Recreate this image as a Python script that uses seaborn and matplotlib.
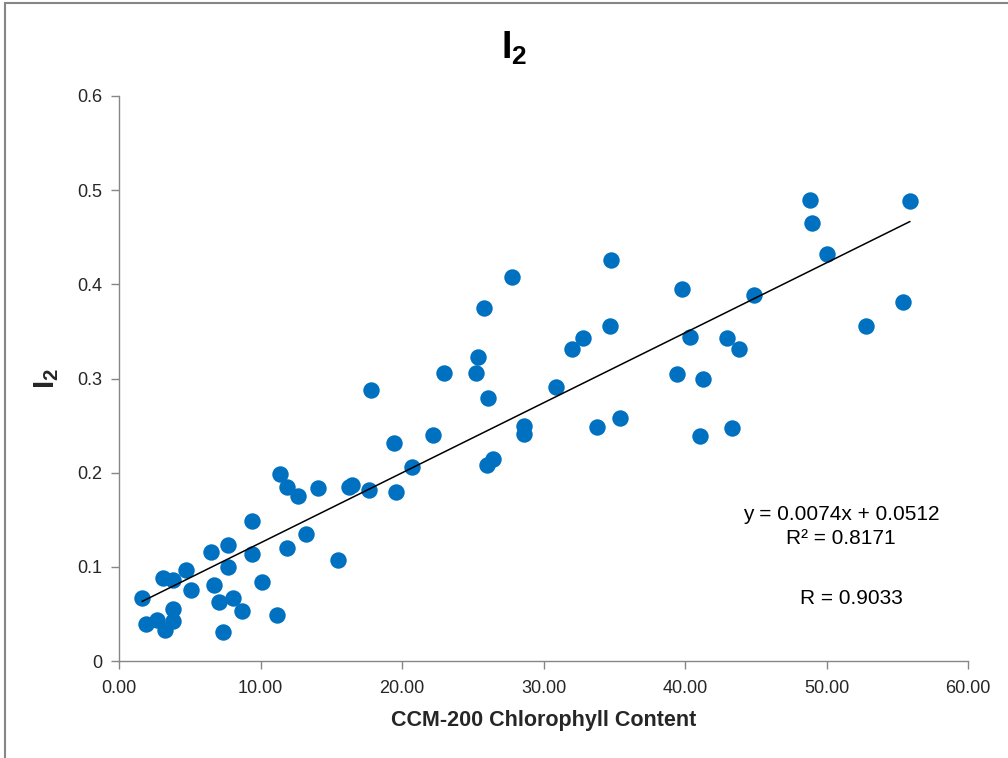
import numpy as np
import pandas as pd
import matplotlib
matplotlib.use("Agg")
import matplotlib.pyplot as plt
import seaborn as sns
from matplotlib.patches import Rectangle
from matplotlib.ticker import FormatStrFormatter, FuncFormatter

chlorophyll = [1.63, 1.91, 2.69, 3.11, 3.25, 3.82, 3.82, 3.82, 4.73, 5.09,
               6.50, 6.70, 7.07, 7.35, 7.70, 7.70, 8.06, 8.70, 9.40, 9.40,
               10.10, 11.20, 11.40, 11.90, 11.90, 12.65, 13.20, 14.06, 15.50, 16.25,
               16.50, 17.70, 17.80, 19.40, 19.60, 20.70, 22.20, 23.00, 25.20, 25.40,
               25.80, 26.10, 26.00, 26.40, 27.80, 28.60, 28.60, 30.90, 32.00, 32.80,
               33.80, 34.70, 34.80, 35.40, 39.40, 39.80, 40.35, 41.06, 41.30, 43.00,
               43.30, 43.80, 44.90, 48.80, 49.00, 50.00, 52.80, 55.40, 55.90]
i2 = [0.067, 0.039, 0.044, 0.088, 0.033, 0.086, 0.055, 0.042, 0.097, 0.075,
      0.116, 0.081, 0.063, 0.031, 0.123, 0.100, 0.067, 0.053, 0.149, 0.114,
      0.084, 0.049, 0.199, 0.185, 0.120, 0.175, 0.135, 0.184, 0.107, 0.185,
      0.187, 0.182, 0.288, 0.232, 0.179, 0.206, 0.240, 0.306, 0.306, 0.323,
      0.375, 0.279, 0.208, 0.215, 0.408, 0.250, 0.241, 0.291, 0.331, 0.343,
      0.248, 0.356, 0.426, 0.258, 0.305, 0.395, 0.344, 0.239, 0.299, 0.343,
      0.247, 0.331, 0.389, 0.490, 0.465, 0.432, 0.356, 0.381, 0.489]

x_ticks = [0, 10, 20, 30, 40, 50, 60]
y_ticks = [0, 0.1, 0.2, 0.3, 0.4, 0.5, 0.6]
equation_text = "y = 0.0074x + 0.0512"
r2_text = "R² = 0.8171"
r_text = "R = 0.9033"

df = pd.DataFrame({"x": chlorophyll, "y": i2})

sns.set_theme(style="white")
font = ["Liberation Sans", "DejaVu Sans"]
plt.rcParams["font.family"] = font
plt.rcParams["mathtext.fontset"] = "custom"
plt.rcParams["mathtext.rm"] = "Liberation Sans"
plt.rcParams["mathtext.bf"] = "Liberation Sans:bold"

fig = plt.figure(figsize=(10.08, 7.58), dpi=100)
ax = fig.add_axes([119/1008, 1-661/758, (968-119)/1008, (661-96)/758])

sns.regplot(data=df, x="x", y="y", ax=ax, ci=None, truncate=True,
            scatter_kws=dict(s=140, color="#0070C0", alpha=1, linewidths=0, zorder=3),
            line_kws=dict(color="black", lw=1.1, zorder=4))

ax.set_xlim(0, 60)
ax.set_ylim(0, 0.6)
ax.set_xticks(x_ticks)
ax.set_yticks(y_ticks)
ax.xaxis.set_major_formatter(FormatStrFormatter("%.2f"))
ax.yaxis.set_major_formatter(FuncFormatter(lambda v, p: "0" if v == 0 else f"{v:.1f}"))

for s in ["top", "right"]:
    ax.spines[s].set_visible(False)
for s in ["left", "bottom"]:
    ax.spines[s].set_color("#868686")
    ax.spines[s].set_linewidth(1.0)
ax.tick_params(axis="both", which="major", length=6, width=1, color="#868686",
               labelsize=13, labelcolor="#262626", direction="out",
               left=True, bottom=True)
ax.tick_params(axis="x", pad=8)
ax.tick_params(axis="y", pad=6)

ax.set_xlabel("CCM-200 Chlorophyll Content", fontsize=15.5, fontweight="bold",
              color="#262626", labelpad=9)
ax.set_ylabel(r"$\mathbf{I_2}$", fontsize=21, color="#262626", labelpad=12)
fig.text(514/1008, 1-48/758, r"$\mathbf{I_2}$", fontsize=27, ha="center",
         va="center", color="black")

fig.text(841/1008, 1-515/758, equation_text, fontsize=15, ha="center", va="center",
         color="black")
fig.text(841/1008, 1-538/758, r2_text, fontsize=15, ha="center", va="center",
         color="black")
fig.text(903/1008, 1-598/758, r_text, fontsize=15, ha="right", va="center",
         color="black")

fig.patches.append(Rectangle((5/1008, -0.02), 1.1, 1.02 - 3/758,
                             transform=fig.transFigure, fill=False,
                             edgecolor="#868686", lw=1.5))

fig.savefig("out.png", dpi=100)
